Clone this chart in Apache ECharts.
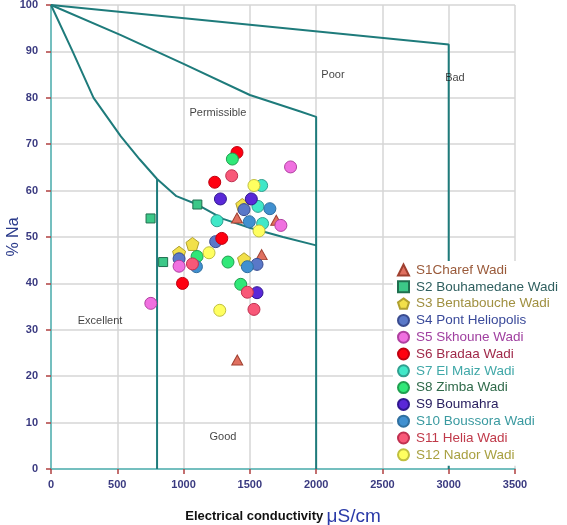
<!DOCTYPE html>
<html>
<head>
<meta charset="utf-8">
<script src="https://cdn.jsdelivr.net/npm/echarts@6/dist/echarts.min.js"></script>
<style>html,body{margin:0;padding:0;background:#fff}#c{width:567px;height:525px}</style>
</head>
<body>
<div id="c"></div>
<script>
// ---- Data ----
const seriesNames = ['S1Charef Wadi','S2 Bouhamedane Wadi','S3 Bentabouche Wadi','S4 Pont Heliopolis','S5 Skhoune Wadi','S6 Bradaa Wadi','S7 El Maiz Wadi','S8 Zimba Wadi','S9 Boumahra','S10 Boussora Wadi','S11 Helia Wadi','S12 Nador Wadi'];
const s1 = [[1405,23.5],[1403,54.1],[1699,53.6],[1589,46.2]];
const s2 = [[751,54.0],[1104,57.0],[846,44.6]];
const s3 = [[1443,56.9],[1067,48.5],[966,46.6],[1456,45.2]];
const s4 = [[1456,55.9],[1242,49.0],[966,45.3],[1554,44.1]];
const s5 = [[1807,65.1],[1734,52.5],[966,43.7],[753,35.7]];
const s6 = [[1403,68.2],[1235,61.8],[1288,49.7],[992,40.0]];
const s7 = [[1589,61.1],[1561,56.6],[1252,53.5],[1596,52.9]];
const s8 = [[1368,66.8],[1102,45.8],[1335,44.6],[1431,39.8]];
const s9 = [[1278,58.2],[1511,58.2],[1554,38.0]];
const s10 = [[1651,56.1],[1496,53.3],[1097,43.6],[1481,43.6]];
const s11 = [[1363,63.2],[1067,44.2],[1481,38.1],[1531,34.4]];
const s12 = [[1531,61.1],[1569,51.3],[1192,46.6],[1273,34.2]];
const allData = [s1,s2,s3,s4,s5,s6,s7,s8,s9,s10,s11,s12];

// Wilcox boundary lines
const excellentLine = [[0,100],[163,90],[321,80],[527,71.7],[670,66.7],[800,62.5],[946,58.8],[1104,57.0],[1298,53.9],[1498,52.0],[1750,50.0],[2000,48.2]];
const excellentVert = [[800,62.5],[800,0]];
const permissibleLine = [[0,100],[527,93.5],[1000,87.3],[1500,80.6],[1875,77.1],[2000,75.9],[2000,0]];
const poorLine = [[0,100],[3000,91.5],[3000,0]];

// region labels
const regionNames = ['Bad','Poor','Permissible','Excellent','Good'];
const regionX = [3047,2127,1259,370,1297];
const regionY = [84.3,85,76.8,31.8,6.9];

// ---- Styles ----
const pentagon = 'path://M0,-1 L0.951,-0.309 L0.588,0.809 L-0.588,0.809 L-0.951,-0.309 Z';
const symbols = ['triangle','rect',pentagon,'circle','circle','circle','circle','circle','circle','circle','circle','circle'];
const sizes = [[11,10],9,13,12,12,12,12,12,12,12,12,12];
const fills = ['#e07060','#3cc888','#f2e04a','#5a78c8','#f070e0','#ff0010','#40e8c8','#30e878','#5a28d8','#4090d0','#f85878','#ffff60'];
const borders = ['#a04030','#1f6f4f','#b0a030','#3a4c90','#b040a0','#c00010','#30a090','#20a050','#301890','#3070a0','#c03050','#c0c040'];
const textColors = ['#9a5a3a','#2f5f5f','#a09040','#3a4a9a','#a040a0','#a02a4a','#40a8a8','#2f6a4a','#2a2060','#3a9aa0','#c03a4a','#a8a040'];
const lineColor = '#1e7b7b';

const series = [];
function boundary(d){
  return {type:'line',data:d,symbol:'none',silent:true,z:1,
    lineStyle:{color:lineColor,width:2},animation:false};
}
series.push(boundary(excellentLine),boundary(excellentVert),boundary(permissibleLine),boundary(poorLine));
allData.forEach((d,i)=>{
  series.push({name:seriesNames[i],type:'scatter',data:d,symbol:symbols[i],symbolSize:sizes[i],z:3,
    itemStyle:{color:fills[i],borderColor:borders[i],borderWidth:1,opacity:1}});
});
series.push({type:'scatter',silent:true,symbolSize:0,z:2,
  data:regionNames.map((n,i)=>({name:n,value:[regionX[i],regionY[i]]})),
  label:{show:true,position:'inside',formatter:p=>p.name,color:'#111',fontSize:11,fontFamily:'Arial'}});

const option = {
  animation:false,
  backgroundColor:'#fff',
  grid:{left:51,right:52,top:5,bottom:56,containLabel:false,outerBoundsMode:'none'},
  xAxis:{type:'value',min:0,max:3500,interval:500,
    name:'{a|Electrical conductivity} {b|μS/cm}',nameLocation:'middle',nameGap:38,
    nameTextStyle:{rich:{a:{fontFamily:'Arial',fontSize:13,fontWeight:'bold',color:'#111'},b:{fontFamily:'Arial',fontSize:19,color:'#2a3aa8'}}},
    axisLine:{lineStyle:{color:'#50b4b4',width:1.5}},
    axisTick:{show:true,length:5,lineStyle:{color:'#b04040',width:1.5}},
    axisLabel:{margin:10,color:'#3a3a80',fontSize:11,fontWeight:'bold',fontFamily:'Arial',formatter:v=>String(v)},
    splitLine:{show:true,lineStyle:{color:'#d6d6d6',width:1.5}}},
  yAxis:{type:'value',min:0,max:100,interval:10,
    name:'% Na',nameLocation:'middle',nameGap:29,nameRotate:90,nameMoveOverlap:false,
    nameTextStyle:{fontFamily:'Arial',fontSize:16,color:'#2a3a8a'},
    axisLine:{show:true,lineStyle:{color:'#50b4b4',width:1.5}},
    axisTick:{show:true,length:5,lineStyle:{color:'#b04040',width:1.5}},
    axisLabel:{margin:13,color:'#3a3a80',fontSize:11,fontWeight:'bold',fontFamily:'Arial',formatter:v=>String(v)},
    splitLine:{show:true,lineStyle:{color:'#d6d6d6',width:1.5}}},
  legend:{orient:'vertical',left:393,top:261,backgroundColor:'#fff',padding:[2,4,4,4],
    itemWidth:11,itemHeight:11,itemGap:2.8,
    selectedMode:false,
    data:seriesNames.map((n,i)=>({name:n,icon:symbols[i],textStyle:{color:textColors[i]}})),
    textStyle:{fontFamily:'Arial',fontSize:13.5,padding:[0,0,0,2]}},
  series:series
};
const chart = echarts.init(document.getElementById('c'),null,{renderer:'canvas'});
chart.setOption(option);
</script>
</body>
</html>
